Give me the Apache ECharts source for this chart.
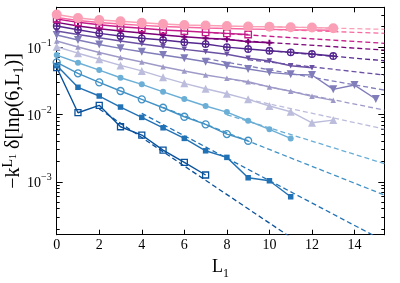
<!DOCTYPE html>
<html><head><meta charset="utf-8">
<script src="https://cdn.jsdelivr.net/npm/echarts@6/dist/echarts.min.js"></script>
<style>html,body{margin:0;padding:0;background:#fff}#c{width:400px;height:283px}</style>
</head><body><div id="c"></div>
<script>
// ---- data ----
const L = [0,1,2,3,4,5,6,7,8,9,10,11,12,13,14,15];
const xTicks = [0,2,4,6,8,10,12,14];
const yMajor = [1e-3,1e-2,1e-1];
const yMinor = [2e-4,3e-4,4e-4,5e-4,6e-4,7e-4,8e-4,9e-4,2e-3,3e-3,4e-3,5e-3,6e-3,7e-3,8e-3,9e-3,2e-2,3e-2,4e-2,5e-2,6e-2,7e-2,8e-2,9e-2,2e-1,3e-1];

const sA  = [0.0494,0.01057,0.01361,0.00655,0.00493,0.00295,0.00194,0.00126];
const sB  = [0.053,0.0252,0.0187,0.01283,0.00902,0.00632,0.0044,0.00288,0.0023,0.001146,0.001035,0.000599];
const sC  = [0.0591,0.0406,0.0298,0.0222,0.0167,0.01253,0.00921,0.00711,0.0051,0.00406];
const sD  = [0.0758,0.0583,0.0454,0.0349,0.0279,0.0216,0.0169,0.01328,0.01081,0.00804,0.00599,0.0044];
const sE  = [0.1007,0.0807,0.0657,0.0532,0.0441,0.0354,0.0288,0.024,0.0202,0.0167,0.01328,0.01093,0.0075,0.00822];
const sF  = [0.1223,0.0997,0.0826,0.0696,0.0597,0.0508,0.0439,0.0383,0.0342,0.0305,0.0254,0.022,0.0185,0.01613];
const sG  = [0.1502,0.1266,0.1085,0.0953,0.0849,0.0758,0.0678,0.0603,0.0526,0.047,0.042,0.0392,0.0383,0.0235,0.0272,0.01687];
const sH  = [0.1721,0.1528,0.1369,0.1223,0.1104,0.1007,0.0921,0.0849,0.0777,0.0678,0.0618,0.0526,0.0491];
const sI  = [0.2042,0.1799,0.1591,0.1451,0.1342,0.1266,0.1174,0.1104,0.0993,0.0931,0.0878,0.0832,0.0785,0.0733];
const sJ  = [0.2317,0.2042,0.1862,0.1721,0.1608,0.1502,0.1417,0.1342,0.1297,0.1195,0.1154];
const sK  = [0.2594,0.2317,0.2135,0.1994,0.1888,0.1781,0.1721,0.1647,0.1591,0.1528];
const sM  = [0.2729,0.2464,0.2301,0.2187,0.2091,0.2008,0.1953,0.1907,0.1875,0.1843,0.1824,0.1799,0.1781,0.1763];
const sN  = [0.303,0.2685,0.2506,0.2399,0.2286,0.2188,0.2113,0.2077,0.2042,0.2008,0.1994,0.196,0.1947,0.1888];

// dashed fit lines: [L, value] at start and end
const fA = [[2,0.012],[15.4,1.76e-5]];
const fB = [[4,0.01035],[15.4,1.318e-4]];
const fC = [[5,0.01268],[15.4,6.37e-4]];
const fD = [[8,0.00986],[15.4,0.00186]];
const fE = [[9,0.0167],[15.4,0.00605]];
const fF = [[8,0.0342],[15.4,0.01158]];
const fG = [[7,0.0673],[15.4,0.0229]];
const fH = [[9,0.0646],[15.4,0.0383]];
const fI = [[10,0.0878],[15.4,0.0624]];
const fJ = [[7,0.1342],[15.4,0.0899]];
const fK = [[7,0.1647],[15.4,0.1131]];
const fM = [[10,0.1824],[15.4,0.1591]];
const fN = [[10,0.1994],[15.4,0.1824]];

// ---- styles ----
const circlePlus = 'path://M0,-10A10,10,0,1,1,0,10A10,10,0,1,1,0,-10ZM0,-10L0,10M-10,0L10,0';
const plus = 'path://M-1.3,-4H1.3V-1.3H4V1.3H1.3V4H-1.3V1.3H-4V-1.3H-1.3Z';
const defs = [
  {d:sA,f:fA,c:'#08519c',sym:'rect',size:6,open:true},
  {d:sB,f:fB,c:'#2171b5',sym:'rect',size:5.5,open:false},
  {d:sC,f:fC,c:'#4292c6',sym:'circle',size:7,open:true},
  {d:sD,f:fD,c:'#6baed6',sym:'circle',size:6,open:false},
  {d:sE,f:fE,c:'#bcbddc',sym:'triangle',size:8,open:false},
  {d:sF,f:fF,c:'#9e9ac8',sym:'triangle',size:5.5,open:false},
  {d:sG,f:fG,c:'#807dba',sym:'triangle',size:8,open:false,rot:180},
  {d:sH,f:fH,c:'#6a51a3',sym:'triangle',size:5.5,open:false,rot:180},
  {d:sI,f:fI,c:'#54278f',sym:circlePlus,size:6.5,open:true},
  {d:sJ,f:fJ,c:'#7a0177',sym:plus,size:6,open:false},
  {d:sK,f:fK,c:'#c51b8a',sym:'rect',size:6.5,open:true},
  {d:sM,f:fM,c:'#f768a1',sym:'circle',size:3,open:false},
  {d:sN,f:fN,c:'#fa9fb5',sym:'circle',size:10,open:false}
];

const series = [];
defs.forEach(s => {
  series.push({type:'line', data:s.f, showSymbol:false, symbol:'none', silent:true,
    lineStyle:{color:s.c, width:1.3, type:[5,3]}, z:1});
});
defs.forEach((s,i) => {
  series.push({type:'line', data:s.d.map((v,k)=>[L[k],v]), symbol:s.sym, symbolSize:s.size,
    symbolRotate:s.rot||0, silent:true, z:2+i,
    lineStyle:{color:s.c, width:1.4},
    itemStyle:{color: s.open ? 'rgba(0,0,0,0)' : s.c, borderColor:s.c, borderWidth: s.open ? 1.3 : 0}
  });
});

const serif = 'Liberation Serif';
const axisLine = {show:true, lineStyle:{color:'#000', width:1}};
const xBase = {type:'value', min:0, max:15.4, splitLine:{show:false}, axisLine};
const yBase = {type:'log', logBase:10, min:1.64e-4, max:0.387, splitLine:{show:false}, axisLine};

const chart = echarts.init(document.getElementById('c'), null, {renderer:'canvas'});
chart.setOption({
  animation:false,
  backgroundColor:'#fff',
  grid:{left:56.7, right:15.7, top:7.3, bottom:48.3, outerBoundsMode:'none', containLabel:false},
  xAxis:[
    Object.assign({}, xBase, {position:'bottom',
      axisTick:{inside:true, length:5, customValues:xTicks, lineStyle:{color:'#000'}},
      axisLabel:{customValues:xTicks, margin:4, fontFamily:serif, fontSize:14, color:'#000'},
      name:'{t|L}{s|1}', nameLocation:'middle', nameGap:24, nameMoveOverlap:false,
      nameTextStyle:{rich:{
        t:{fontFamily:serif, fontSize:18, color:'#000', verticalAlign:'bottom', padding:[0,0,3,0]},
        s:{fontFamily:serif, fontSize:12, color:'#000', verticalAlign:'bottom'}}}
    }),
    Object.assign({}, xBase, {position:'top',
      axisTick:{inside:true, length:5, customValues:xTicks, lineStyle:{color:'#000'}},
      axisLabel:{show:false}})
  ],
  yAxis:[
    Object.assign({}, yBase, {position:'left',
      axisTick:{inside:true, length:6, customValues:yMajor, lineStyle:{color:'#000'}},
      axisLabel:{customValues:yMajor, margin:5, color:'#000',
        formatter:v => '{b|10}{s|−' + Math.round(-Math.log10(v)) + '}',
        rich:{b:{fontFamily:serif, fontSize:14, color:'#000', verticalAlign:'bottom'},
              s:{fontFamily:serif, fontSize:10, color:'#000', verticalAlign:'bottom', padding:[0,0,8,0]}}},
      name:'{t|−k}{p|L}{q|1}{t| δ[lnρ(6,L}{u|1}{t|)]}', nameLocation:'middle', nameGap:30, nameRotate:90,
      nameMoveOverlap:false,
      nameTextStyle:{rich:{
        t:{fontFamily:serif, fontSize:20, color:'#000', verticalAlign:'bottom', padding:[0,0,3,0]},
        p:{fontFamily:serif, fontSize:14, color:'#000', verticalAlign:'bottom', padding:[0,0,11,0]},
        q:{fontFamily:serif, fontSize:10, color:'#000', verticalAlign:'bottom', padding:[0,0,8,0]},
        u:{fontFamily:serif, fontSize:14, color:'#000', verticalAlign:'bottom'}}}
    }),
    Object.assign({}, yBase, {position:'left',
      axisTick:{inside:true, length:3, customValues:yMinor, lineStyle:{color:'#000'}},
      axisLabel:{show:false}}),
    Object.assign({}, yBase, {position:'right',
      axisTick:{inside:true, length:6, customValues:yMajor, lineStyle:{color:'#000'}},
      axisLabel:{show:false}}),
    Object.assign({}, yBase, {position:'right',
      axisTick:{inside:true, length:3, customValues:yMinor, lineStyle:{color:'#000'}},
      axisLabel:{show:false}})
  ],
  series: series
});
</script></body></html>
